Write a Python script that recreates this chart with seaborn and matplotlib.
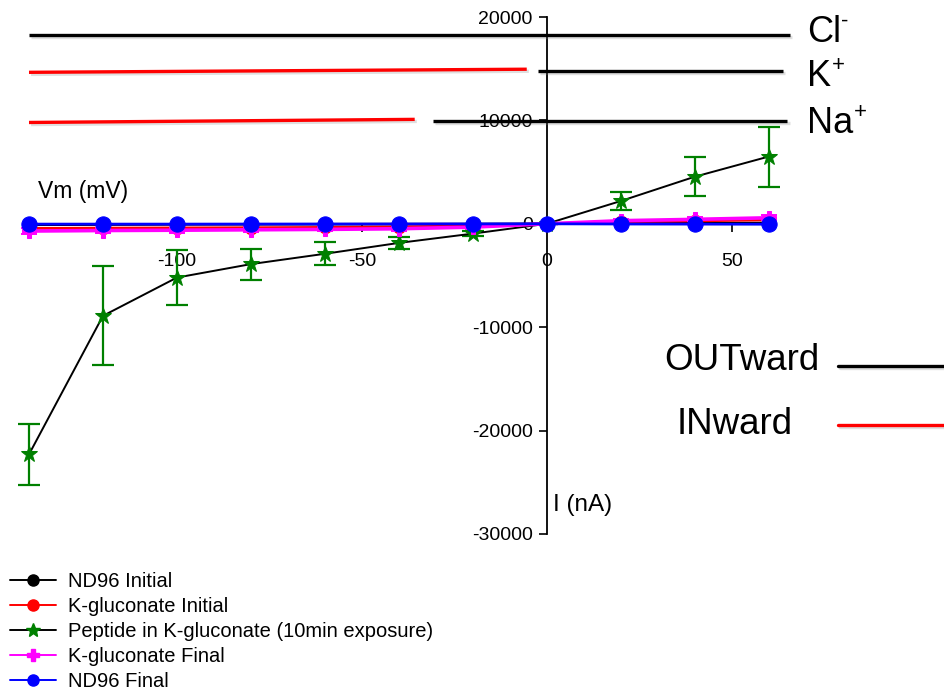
import matplotlib
matplotlib.use("Agg")
import matplotlib.pyplot as plt
import matplotlib.patheffects as pe
from matplotlib.lines import Line2D
import seaborn as sns
import pandas as pd
import numpy as np

# ---------------- data ----------------
vm = [-140, -120, -100, -80, -60, -40, -20, 0, 20, 40, 60]
nd96_initial = [-100, -80, -60, -50, -40, -30, -20, 0, 40, 60, 80]
kglu_initial = [-450, -420, -400, -380, -350, -300, -200, 0, 200, 280, 380]
peptide = [-22300, -8900, -5200, -3900, -2900, -1850, -950, 0, 2200, 4550, 6500]
peptide_err = [2950, 4800, 2650, 1500, 1100, 600, 250, 0, 850, 1900, 2900]
kglu_final = [-700, -650, -620, -580, -540, -480, -320, 0, 300, 430, 580]
kglu_final_err = [300, 280, 250, 230, 200, 180, 150, 0, 150, 200, 250]
nd96_final = [-30, -30, -30, -25, -20, -15, -10, 0, -20, -30, -40]

series_names = ["ND96 Initial", "K-gluconate Initial",
                "Peptide in K-gluconate (10min exposure)",
                "K-gluconate Final", "ND96 Final"]

ion_names = ["Cl", "K", "Na"]
ion_charges = ["-", "+", "+"]
ion_levels = [18300, 14800, 9950]
ion_label_baselines = [17600, 13350, 8800]
ion_inward_span = [None, (-140, -5.4), (-140, -35.7)]
ion_outward_span = [(-140, 65.7), (-2.4, 63.8), (-30.8, 65.1)]

x_ticks = [-100, -50, 0, 50]
y_ticks = [-30000, -20000, -10000, 0, 10000, 20000]

# ---------------- style ----------------
sns.set_theme(style="white")
plt.rcParams["font.family"] = ["Liberation Sans", "DejaVu Sans"]
for k in ["text.color", "axes.labelcolor", "xtick.color", "ytick.color"]:
    plt.rcParams[k] = "black"

W, H = 944, 694
fig = plt.figure(figsize=(W / 100, H / 100), dpi=100)

# axes placement: x=-140 -> px 29, x=62 -> px 776 ; y=20000 -> 17, -30000 -> 534
x0_px, x1_px = 29, 776
y0_px, y1_px = 534, 17
ax = fig.add_axes([x0_px / W, 1 - y0_px / H, (x1_px - x0_px) / W, (y0_px - y1_px) / H])
ax.set_xlim(-140, 62)
ax.set_ylim(-30000, 20000)
ax.patch.set_alpha(0)

def draw(y, color, marker, ms, lw, line_color=None, z=3):
    sns.lineplot(x=vm, y=y, ax=ax, color=line_color or color, lw=lw,
                 marker=marker, markersize=ms, markerfacecolor=color,
                 markeredgecolor=color, zorder=z, legend=False, clip_on=False)

draw(nd96_initial, "black", "o", 9, 1.8, z=3)
draw(kglu_initial, "red", "o", 9, 2.0, z=3.1)
ax.errorbar(vm, peptide, yerr=peptide_err, fmt="none", ecolor="green",
            elinewidth=1.6, capsize=8, capthick=1.6, zorder=3.2)
sns.lineplot(x=vm, y=peptide, ax=ax, color="black", lw=1.4, marker="*",
             markersize=12, markerfacecolor="green", markeredgecolor="green",
             zorder=3.3, legend=False, clip_on=False)
ax.errorbar(vm, kglu_final, yerr=kglu_final_err, fmt="none", ecolor="magenta",
            elinewidth=1.4, capsize=6, capthick=1.4, zorder=3.4)
draw(kglu_final, "magenta", "P", 10, 2.6, z=3.5)
draw(nd96_final, "blue", "o", 11, 2.0, z=3.6)
for art in list(ax.lines) + list(ax.collections):
    art.set_clip_on(False)

# axes crossing at the origin
for s in ["top", "right"]:
    ax.spines[s].set_visible(False)
ax.spines["left"].set_position(("data", 0))
ax.spines["bottom"].set_position(("data", 0))
for s in ["left", "bottom"]:
    ax.spines[s].set_color("black")
    ax.spines[s].set_linewidth(1.3)
    ax.spines[s].set_zorder(2)
ax.set_xticks(x_ticks)
ax.set_yticks(y_ticks)
ax.set_yticklabels([str(v) for v in y_ticks])
ax.set_xticklabels([str(v) for v in x_ticks])
ax.tick_params(axis="both", direction="out", length=6, width=1.2, colors="black",
               labelsize=14, bottom=True, left=True)
ax.tick_params(axis="x", pad=15)
ax.tick_params(axis="y", pad=4)
ax.grid(False)

# axis titles
fig.text(38 / W, 1 - 191 / H, "Vm (mV)", fontsize=16.5, va="center", ha="left")
fig.text(553 / W, 1 - 505 / H, "I (nA)", fontsize=17.5, va="center", ha="left")

# ion reversal lines
shadow = [pe.SimpleLineShadow(offset=(1.5, -1.5), alpha=0.25, shadow_color="gray"), pe.Normal()]
for name, chg, lev, base, inw, outw in zip(ion_names, ion_charges, ion_levels,
                                           ion_label_baselines, ion_inward_span,
                                           ion_outward_span):
    if inw is not None:
        ax.plot(inw, [lev - 150, lev + 150], color="red", lw=2.4, clip_on=False,
                zorder=6, solid_capstyle="butt", path_effects=shadow)
    ax.plot(outw, [lev, lev], color="black", lw=2.4, clip_on=False, zorder=6,
            solid_capstyle="butt", path_effects=shadow)
    t = ax.text(70.5, base, name, fontsize=26, va="baseline", ha="left", clip_on=False)
    ax.annotate(chg, xy=(1.0, 1.0), xycoords=t, xytext=(0, 3),
                textcoords="offset points", fontsize=16, va="top", ha="left")

# OUTward / INward key
fig.text(664 / W, 1 - 360 / H, "OUTward", fontsize=26.5, va="center", ha="left")
fig.text(677 / W, 1 - 425 / H, "INward", fontsize=26.5, va="center", ha="left")
fig.add_artist(Line2D([838 / W, 1.0], [1 - 366 / H] * 2, color="black", lw=2.4,
                      path_effects=shadow, transform=fig.transFigure))
fig.add_artist(Line2D([838 / W, 1.0], [1 - 425 / H] * 2, color="red", lw=2.4,
                      path_effects=shadow, transform=fig.transFigure))

# legend
handles = [
    Line2D([], [], color="black", marker="o", ms=8, mfc="black", mec="black", lw=1.4),
    Line2D([], [], color="red", marker="o", ms=8, mfc="red", mec="red", lw=1.4),
    Line2D([], [], color="black", marker="*", ms=10, mfc="green", mec="green", lw=1.4),
    Line2D([], [], color="magenta", marker="P", ms=8, mfc="magenta", mec="magenta", lw=1.4),
    Line2D([], [], color="blue", marker="o", ms=8, mfc="blue", mec="blue", lw=1.4),
]
fig.legend(handles, series_names, loc="upper left", bbox_to_anchor=(-2 / W, 1 - 560 / H),
           frameon=False, fontsize=14.5, handlelength=2.3, handletextpad=0.6,
           labelspacing=0.3, borderaxespad=0.3, borderpad=0.3)

fig.savefig("out.png", dpi=100)
